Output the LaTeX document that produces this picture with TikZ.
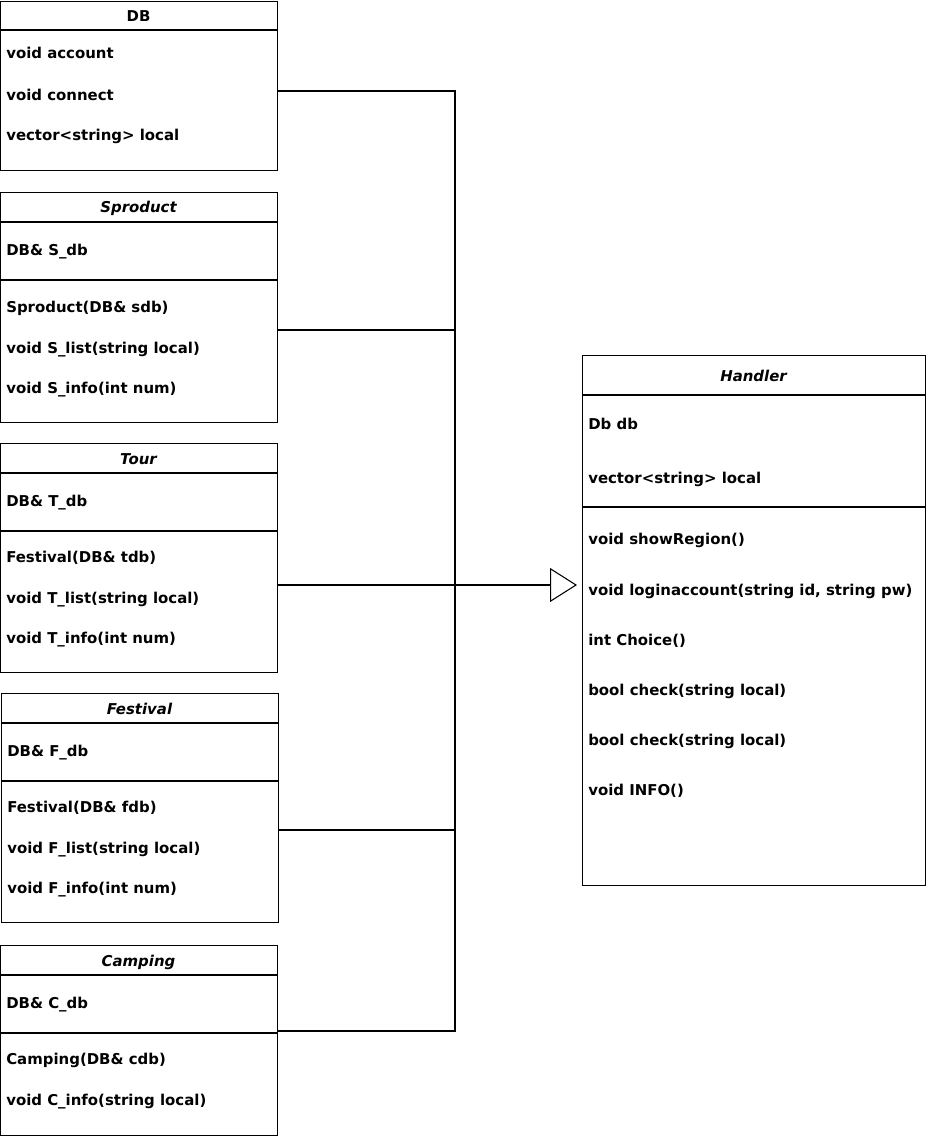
\documentclass[tikz,border=0pt]{standalone}
\usepackage{fontspec}
\setmainfont{DejaVu Sans}
\usetikzlibrary{positioning,arrows.meta,calc}

\begin{document}
\begin{tikzpicture}
[x=0.75pt,y=-0.75pt,
font=\fontsize{11.2}{13}\selectfont\bfseries,
%
umlclass/.style={draw=black,line width=0.8pt,anchor=north west,inner sep=0pt,minimum width=277*0.75pt},
title/.style={anchor=base,inner sep=0pt},
ititle/.style={title,font=\fontsize{11.2}{13}\selectfont\bfseries\itshape},
member/.style={anchor=base west,inner sep=0pt},
divider/.style={draw=black,line width=0.8pt},
%
inherit/.style={draw=black,line width=0.8pt},
gen/.style={inherit,shorten >=3.75pt,-{Triangle[open,length=27*0.75pt,width=34*0.75pt]}}]
%
\useasboundingbox (0,0) rectangle (927,1137);
%
%% DB
\begin{scope}[shift={(0,1)}]
\node (db) [umlclass,minimum height=169*0.75pt] at (0,0) {};
\node (db-t) [title] at (138.5,21) {DB};
\draw[divider] (db.north west) ++(0,29) -- ++(277,0);
\foreach \y/\t [count=\i] in {58/void account,100/void connect,140/vector<string> local}
\node (db-\i) [member] at (6,\y) {\t};
\end{scope}
%
%% Sproduct
\begin{scope}[shift={(0,192)}]
\node (sp) [umlclass,minimum height=230*0.75pt] at (0,0) {};
\node (sp-t) [ititle] at (138.5,21) {Sproduct};
\draw[divider] (sp.north west) ++(0,30) -- ++(277,0);
\draw[divider] (sp.north west) ++(0,88) -- ++(277,0);
\foreach \y/\t [count=\i] in {64/{DB\& S\_db},120/{Sproduct(DB\& sdb)},161/{void S\_list(string local)},201/{void S\_info(int num)}}
\node (sp-\i) [member] at (6,\y) {\t};
\end{scope}
%
%% Tour
\begin{scope}[shift={(0,443)}]
\node (to) [umlclass,minimum height=229*0.75pt] at (0,0) {};
\node (to-t) [ititle] at (138.5,21) {Tour};
\draw[divider] (to.north west) ++(0,30) -- ++(277,0);
\draw[divider] (to.north west) ++(0,88) -- ++(277,0);
\foreach \y/\t [count=\i] in {63/{DB\& T\_db},119/{Festival(DB\& tdb)},160/{void T\_list(string local)},200/{void T\_info(int num)}}
\node (to-\i) [member] at (6,\y) {\t};
\end{scope}
%
%% Festival
\begin{scope}[shift={(1,693)}]
\node (fe) [umlclass,minimum height=229*0.75pt] at (0,0) {};
\node (fe-t) [ititle] at (138.5,21) {Festival};
\draw[divider] (fe.north west) ++(0,30) -- ++(277,0);
\draw[divider] (fe.north west) ++(0,88) -- ++(277,0);
\foreach \y/\t [count=\i] in {63/{DB\& F\_db},119/{Festival(DB\& fdb)},160/{void F\_list(string local)},200/{void F\_info(int num)}}
\node (fe-\i) [member] at (6,\y) {\t};
\end{scope}
%
%% Camping
\begin{scope}[shift={(0,945)}]
\node (ca) [umlclass,minimum height=190*0.75pt] at (0,0) {};
\node (ca-t) [ititle] at (138.5,21) {Camping};
\draw[divider] (ca.north west) ++(0,30) -- ++(277,0);
\draw[divider] (ca.north west) ++(0,88) -- ++(277,0);
\foreach \y/\t [count=\i] in {63/{DB\& C\_db},119/{Camping(DB\& cdb)},160/{void C\_info(string local)}}
\node (ca-\i) [member] at (6,\y) {\t};
\end{scope}
%
%% Handler
\begin{scope}[shift={(582,355)}]
\node (ha) [umlclass,minimum width=343*0.75pt,minimum height=530*0.75pt] at (0,0) {};
\node (ha-t) [ititle] at (171.5,26) {Handler};
\draw[divider] (ha.north west) ++(0,40) -- ++(343,0);
\draw[divider] (ha.north west) ++(0,152) -- ++(343,0);
\foreach \y/\t [count=\i] in {74/Db db,128/vector<string> local,189/void showRegion(),240/{void loginaccount(string id, string pw)},290/int Choice(),340/bool check(string local),390/bool check(string local),440/void INFO()}
\node (ha-\i) [member] at (6,\y) {\t};
\end{scope}
%
%% generalisation edges
\coordinate (bus) at (455,585);
\coordinate (b-db) at (455,91);
\coordinate (b-sp) at (455,330);
\coordinate (b-fe) at (455,830);
\coordinate (b-ca) at (455,1031);
\draw[inherit] (db.east |- b-db) -- (b-db) -- (bus);
\draw[inherit] (sp.east |- b-sp) -- (b-sp);
\draw[inherit] (fe.east |- b-fe) -- (b-fe);
\draw[inherit] (ca.east |- b-ca) -- (b-ca) -- (bus);
\draw[gen] (to.east |- bus) -- (bus -| ha.west);
\end{tikzpicture}
\end{document}
